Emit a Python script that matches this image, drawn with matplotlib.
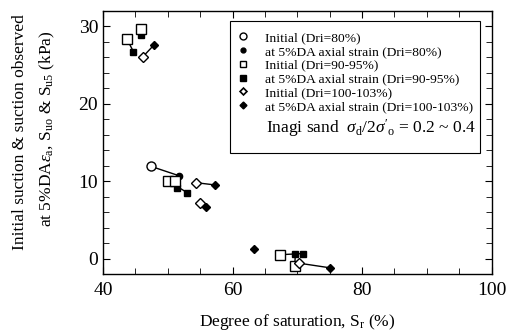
import numpy as np
import matplotlib
matplotlib.use('Agg')
import matplotlib.pyplot as plt
from matplotlib.lines import Line2D
from matplotlib.patches import Rectangle

plt.rcParams['font.family'] = ['Liberation Serif', 'DejaVu Serif']
plt.rcParams['mathtext.fontset'] = 'custom'
plt.rcParams['mathtext.rm'] = 'Liberation Serif'
plt.rcParams['mathtext.it'] = 'Liberation Serif:italic'

# Dri = 80 %
sr_init_80 = [47.4]
su_init_80 = [11.9]
sr_da_80 = [51.7]
su_da_80 = [10.7]

# Dri = 90-95 %
sr_init_90 = [43.7, 45.8, 50.1, 51.1, 67.4, 69.6]
su_init_90 = [28.3, 29.6, 10.0, 10.0, 0.5, -0.9]
sr_da_90 = [44.7, 45.9, 53.0, 51.4, 70.9, 69.7]
su_da_90 = [26.7, 28.8, 8.5, 9.1, 0.65, 0.65]

# Dri = 100-103 % (nan = no initial point)
sr_init_100 = [46.1, 54.3, 55.0, 70.3, np.nan]
su_init_100 = [26.0, 9.8, 7.2, -0.6, np.nan]
sr_da_100 = [47.8, 57.3, 55.9, 75.1, 63.3]
su_da_100 = [27.5, 9.5, 6.6, -1.2, 1.2]

labels = ['Initial (Dri=80%)', 'at 5%DA axial strain (Dri=80%)',
          'Initial (Dri=90-95%)', 'at 5%DA axial strain (Dri=90-95%)',
          'Initial (Dri=100-103%)', 'at 5%DA axial strain (Dri=100-103%)']

fig = plt.figure(figsize=(5.1, 3.31), dpi=100)
ax = fig.add_axes([0.202, 0.172, 0.762, 0.796])

groups = [
    (sr_init_80, su_init_80, sr_da_80, su_da_80, 'o', 6.5, 4.5),
    (sr_init_90, su_init_90, sr_da_90, su_da_90, 's', 6.5, 5.0),
    (sr_init_100, su_init_100, sr_da_100, su_da_100, 'D', 5.0, 4.5),
]
for si, ui, sd, ud, m, ms_o, ms_f in groups:
    for a, b, c, d in zip(si, ui, sd, ud):
        ax.plot([a, c], [b, d], color='black', lw=1.0, zorder=1)
    ax.plot(si, ui, m, ls='none', mfc='white', mec='black', mew=1.0, ms=ms_o, zorder=3)
    ax.plot(sd, ud, m, ls='none', mfc='black', mec='black', ms=ms_f, zorder=2)

ax.set_xlim(40, 100)
ax.set_ylim(-2, 32)
ax.set_xticks([40, 60, 80, 100])
ax.set_xticks(np.arange(40, 101, 5), minor=True)
ax.set_yticks([0, 10, 20, 30])
ax.set_yticks(np.arange(0, 32, 2), minor=True)
ax.tick_params(which='both', direction='in', top=True, right=True, labelsize=14)
ax.tick_params(which='major', length=5)
ax.tick_params(which='minor', length=4)
ax.tick_params(axis='x', pad=6)
for s in ax.spines.values():
    s.set_linewidth(1.0)

ax.set_xlabel('Degree of saturation, S$_{\\mathrm{r}}$ (%)', fontsize=12.5, labelpad=9)
fig.text(0.040, 0.60, 'Initial suction & suction observed', rotation=90,
         fontsize=12.5, ha='center', va='center')
fig.text(0.093, 0.61, 'at 5%DA$\\varepsilon_{\\mathrm{a}}$, S$_{\\mathrm{uo}}$ & S$_{\\mathrm{u5}}$ (kPa)',
         rotation=90, fontsize=12.5, ha='center', va='center')

# legend box
ax.add_patch(Rectangle((0.327, 0.46), 0.643, 0.50, transform=ax.transAxes,
                       fill=False, ec='black', lw=0.8, zorder=4))
handles = [
    Line2D([], [], marker='o', ls='none', mfc='white', mec='black', ms=5),
    Line2D([], [], marker='o', ls='none', mfc='black', mec='black', ms=3.5),
    Line2D([], [], marker='s', ls='none', mfc='white', mec='black', ms=5),
    Line2D([], [], marker='s', ls='none', mfc='black', mec='black', ms=4),
    Line2D([], [], marker='D', ls='none', mfc='white', mec='black', ms=3.5, mew=1.2),
    Line2D([], [], marker='D', ls='none', mfc='black', mec='black', ms=3.5),
]
ax.legend(handles, labels, loc='upper left', bbox_to_anchor=(0.34, 0.92),
          frameon=False, fontsize=9.7, handlelength=1.2, handletextpad=1.05,
          labelspacing=0.1, borderaxespad=0, borderpad=0)
ax.text(0.42, 0.555, "Inagi sand  $\\sigma_{\\mathrm{d}}/2\\sigma'_{\\mathrm{o}}$ = 0.2 ~ 0.4",
        transform=ax.transAxes, fontsize=12.5, va='center', ha='left')

fig.savefig('out.png', dpi=100)
